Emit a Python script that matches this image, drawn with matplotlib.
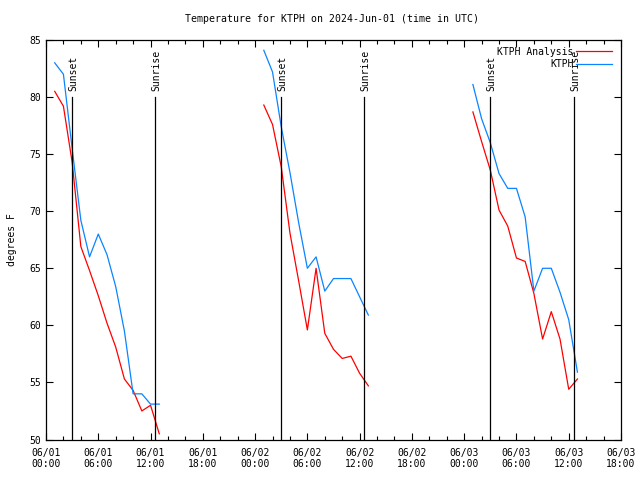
import matplotlib
matplotlib.use("Agg")
import matplotlib.pyplot as plt
import numpy as np

plt.rcParams['font.family'] = ['DejaVu Sans Mono']

# hours since 2024-06-01 00:00 UTC
hours_n1 = [1, 2, 3, 4, 5, 6, 7, 8, 9, 10, 11, 12, 13]
hours_n2 = [25, 26, 27, 28, 29, 30, 31, 32, 33, 34, 35, 36, 37]
hours_n3 = [49, 50, 51, 52, 53, 54, 55, 56, 57, 58, 59, 60, 61]

analysis_n1 = [80.5, 79.2, 74.3, 66.9, 64.8, 62.6, 60.2, 58.1, 55.3, 54.3, 52.5, 53.0, 50.5]
analysis_n2 = [79.3, 77.6, 73.9, 68.1, 63.9, 59.6, 65.0, 59.3, 57.9, 57.1, 57.3, 55.8, 54.7]
analysis_n3 = [78.7, 76.1, 73.6, 70.1, 68.7, 65.9, 65.6, 62.8, 58.8, 61.2, 58.8, 54.4, 55.3]

obs_n1 = [83.0, 82.0, 75.5, 69.2, 66.0, 68.0, 66.2, 63.4, 59.5, 54.0, 54.0, 53.1, 53.1]
obs_n2 = [84.1, 82.2, 77.4, 73.4, 69.0, 65.0, 66.0, 63.0, 64.1, 64.1, 64.1, 62.5, 60.9]
obs_n3 = [81.1, 78.1, 76.0, 73.3, 72.0, 72.0, 69.5, 63.0, 65.0, 65.0, 62.9, 60.5, 55.9]

sunset_hours = [3.0, 27.0, 51.0]
sunrise_hours = [12.53, 36.55, 60.6]

tick_hours = [0, 6, 12, 18, 24, 30, 36, 42, 48, 54, 60, 66]
tick_labels = ["06/01\n00:00", "06/01\n06:00", "06/01\n12:00", "06/01\n18:00",
               "06/02\n00:00", "06/02\n06:00", "06/02\n12:00", "06/02\n18:00",
               "06/03\n00:00", "06/03\n06:00", "06/03\n12:00", "06/03\n18:00"]

RED = '#ff0000'
BLUE = '#0a84ff'
FS = 7

fig = plt.figure(figsize=(6.4, 4.8), dpi=100)
ax = fig.add_axes([46/640, 40.5/480, 575/640, 399.5/480])

ax.set_xlim(0, 66)
ax.set_ylim(50, 85)

for i, (h, a, o) in enumerate([(hours_n1, analysis_n1, obs_n1),
                               (hours_n2, analysis_n2, obs_n2),
                               (hours_n3, analysis_n3, obs_n3)]):
    ax.plot(h, a, color=RED, lw=0.9, label='KTPH Analysis' if i == 0 else None)
    ax.plot(h, o, color=BLUE, lw=0.9, label='KTPH' if i == 0 else None)

for s in sunset_hours:
    ax.plot([s, s], [50, 80], color='black', lw=0.9)
    ax.text(s + 0.15, 80.5, 'Sunset', rotation=90, ha='center', va='bottom', fontsize=FS)
for s in sunrise_hours:
    ax.plot([s, s], [50, 80], color='black', lw=0.9)
    ax.text(s + 0.15, 80.5, 'Sunrise', rotation=90, ha='center', va='bottom', fontsize=FS)

ax.set_xticks(tick_hours)
ax.set_xticklabels(tick_labels, fontsize=FS)
ax.set_xticks(np.arange(0, 67, 2), minor=True)
ax.set_yticks(np.arange(50, 86, 5))
ax.set_yticklabels([str(v) for v in range(50, 86, 5)], fontsize=FS)
ax.tick_params(which='both', direction='in', top=True, right=True, width=0.8)
ax.tick_params(which='major', length=5)
ax.tick_params(which='minor', length=3)
ax.tick_params(axis='x', pad=6)
for sp in ax.spines.values():
    sp.set_linewidth(0.9)

ax.set_ylabel('degrees F', fontsize=FS)
ax.yaxis.set_label_coords(-0.05, 0.5)
fig.text(332/640, 1 - 19/480, 'Temperature for KTPH on 2024-Jun-01 (time in UTC)',
         ha='center', va='center', fontsize=7.1)

leg = ax.legend(loc='upper right', bbox_to_anchor=(0.995, 0.998), frameon=False,
                markerfirst=False, fontsize=FS, handlelength=3.7,
                handletextpad=0.3, labelspacing=0.25, borderaxespad=0.2)

fig.savefig('out.png', dpi=100)
